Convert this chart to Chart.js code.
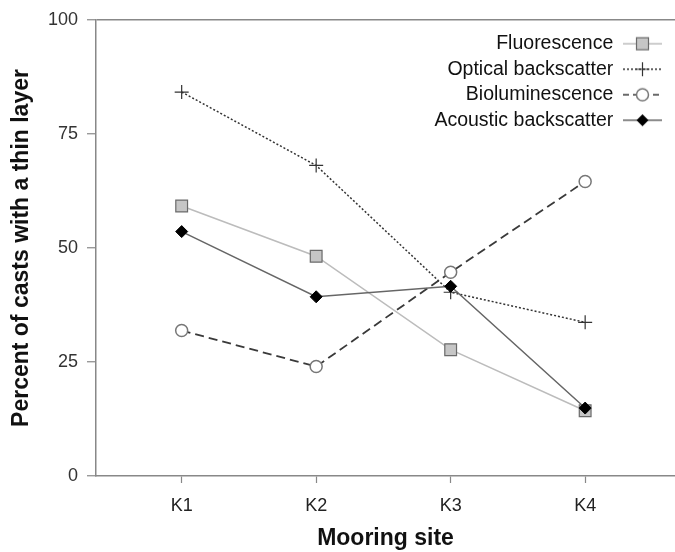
<!DOCTYPE html>
<html>
<head>
<meta charset="utf-8">
<script src="https://cdn.jsdelivr.net/npm/chart.js@4/dist/chart.umd.min.js"></script>
<style>
  html, body { margin: 0; background: #fff; overflow: hidden; }
  #wrap { width: 675px; height: 552px; }
  #wrap canvas { display: block; }
</style>
</head>
<body>
<div id="wrap"><canvas id="grafico"></canvas></div>
<script>
// mooring sites (x axis) and y ticks
var sites = ['K1', 'K2', 'K3', 'K4'];
var yTicks = [0, 25, 50, 75, 100];

// percent of casts with a thin layer, one array per sensor
var fluorescence = [59.2, 48.2, 27.7, 14.3];
var opticalBackscatter = [84.2, 68.1, 40.3, 33.7];
var bioluminescence = [31.9, 24.0, 44.7, 64.6];
var acousticBackscatter = [53.6, 39.3, 41.6, 14.9];

var fonte = '"Liberation Sans", Arial, sans-serif';

function toPoints(values) {
  return values.map(function (v, i) { return { x: i, y: v }; });
}

// small legend symbol: line with the marker in the middle
function legendSymbol(lineColor, lineWidth, dash, marker) {
  var c = document.createElement('canvas');
  c.width = 46;
  c.height = 20;
  var g = c.getContext('2d');
  g.strokeStyle = lineColor;
  g.lineWidth = lineWidth;
  g.setLineDash(dash);
  g.beginPath();
  g.moveTo(0, 10);
  g.lineTo(39, 10);
  g.stroke();
  g.setLineDash([]);
  marker(g, 19.5, 10);
  return c;
}

var symbols = [
  legendSymbol('#bcbcbc', 1.5, [], function (g, x, y) {
    g.fillStyle = '#c6c6c6'; g.strokeStyle = '#6a6a6a'; g.lineWidth = 1.2;
    g.fillRect(x - 6, y - 6, 12, 12); g.strokeRect(x - 6, y - 6, 12, 12);
  }),
  legendSymbol('#333', 1.5, [2, 2], function (g, x, y) {
    g.strokeStyle = '#333'; g.lineWidth = 1.2;
    g.beginPath(); g.moveTo(x, y - 7); g.lineTo(x, y + 7); g.moveTo(x - 7, y); g.lineTo(x + 7, y); g.stroke();
  }),
  legendSymbol('#3a3a3a', 1.6, [6, 4], function (g, x, y) {
    g.fillStyle = '#fff'; g.strokeStyle = '#777'; g.lineWidth = 1.5;
    g.beginPath(); g.arc(x, y, 6, 0, Math.PI * 2); g.fill(); g.stroke();
  }),
  legendSymbol('#666', 1.5, [], function (g, x, y) {
    g.fillStyle = '#000';
    g.beginPath(); g.moveTo(x - 6, y); g.lineTo(x, y - 6); g.lineTo(x + 6, y); g.lineTo(x, y + 6); g.closePath(); g.fill();
  })
];

// move the legend to the top right corner of the plot
var legendCorner = {
  id: 'legendCorner',
  afterLayout: function (chart) {
    var l = chart.legend;
    var w = l.width, h = l.height;
    l.right = chart.chartArea.right;
    l.left = l.right - w;
    l.top = chart.chartArea.top + 8;
    l.bottom = l.top + h;
  }
};

var ctx = document.getElementById('grafico').getContext('2d');
var chart = new Chart(ctx, {
  type: 'line',
  plugins: [legendCorner],
  data: {
    datasets: [
      {
        label: 'Fluorescence',
        data: toPoints(fluorescence),
        borderColor: '#bcbcbc',
        borderWidth: 1.5,
        pointStyle: 'rect',
        pointRadius: 8.3,
        pointBackgroundColor: '#c6c6c6',
        pointBorderColor: '#6a6a6a',
        pointBorderWidth: 1.2,
        order: 3
      },
      {
        label: 'Optical backscatter',
        data: toPoints(opticalBackscatter),
        borderColor: '#333',
        borderWidth: 1.5,
        borderDash: [2, 2],
        pointStyle: 'cross',
        pointRadius: 7,
        pointBorderColor: '#333',
        pointBorderWidth: 1.2,
        order: 2
      },
      {
        label: 'Bioluminescence',
        data: toPoints(bioluminescence),
        borderColor: '#3a3a3a',
        borderWidth: 1.8,
        borderDash: [9, 5],
        pointStyle: 'circle',
        pointRadius: 6,
        pointBackgroundColor: '#fff',
        pointBorderColor: '#777',
        pointBorderWidth: 1.5,
        order: 1
      },
      {
        label: 'Acoustic backscatter',
        data: toPoints(acousticBackscatter),
        borderColor: '#666',
        borderWidth: 1.5,
        pointStyle: 'rectRot',
        pointRadius: 6,
        pointBackgroundColor: '#000',
        pointBorderColor: '#000',
        pointBorderWidth: 1,
        order: 0
      }
    ]
  },
  options: {
    responsive: true,
    maintainAspectRatio: false,
    animation: false,
    layout: { autoPadding: false, padding: { top: 20, right: 0, bottom: 0, left: 0 } },
    plugins: {
      tooltip: { enabled: false },
      legend: {
        position: 'chartArea',
        align: 'start',
        rtl: true,
        labels: {
          usePointStyle: true,
          pointStyleWidth: 46,
          padding: 6,
          color: '#111',
          font: { family: fonte, size: 19.5 },
          generateLabels: function (chart) {
            return chart.data.datasets.map(function (ds, i) {
              return {
                text: ds.label,
                pointStyle: symbols[i],
                fontColor: '#111',
                datasetIndex: i,
                hidden: false,
                lineWidth: 0,
                strokeStyle: 'transparent',
                fillStyle: 'transparent'
              };
            });
          }
        }
      }
    },
    scales: {
      x: {
        type: 'linear',
        min: -0.637,
        max: 3.668,
        afterBuildTicks: function (axis) {
          axis.ticks = sites.map(function (s, i) { return { value: i }; });
        },
        afterFit: function (axis) {
          axis.height = 76;
          axis.paddingLeft = 0;
          axis.paddingRight = 0;
        },
        ticks: {
          autoSkip: false,
          maxRotation: 0,
          padding: 12,
          color: '#222',
          font: { family: fonte, size: 18 },
          callback: function (v) { return sites[v]; }
        },
        grid: { drawOnChartArea: false, tickLength: 7, tickColor: '#888', tickWidth: 1.2 },
        border: { color: '#888', width: 1.5 },
        title: {
          display: true,
          text: 'Mooring site',
          color: '#111',
          font: { family: fonte, size: 23, weight: 'bold' },
          padding: { top: 0, bottom: 0 }
        }
      },
      y: {
        min: 0,
        max: 100,
        afterBuildTicks: function (axis) {
          axis.ticks = yTicks.map(function (v) { return { value: v }; });
        },
        afterFit: function (axis) { axis.width = 96; },
        ticks: { padding: 9, color: '#333', font: { family: fonte, size: 18 } },
        grid: {
          color: function (c) { return c.tick && c.tick.value === 100 ? '#888' : 'transparent'; },
          lineWidth: 1.5,
          tickLength: 9,
          tickColor: '#888',
          tickWidth: 1.2
        },
        border: { color: '#888', width: 1.5 },
        title: {
          display: true,
          text: 'Percent of casts with a thin layer',
          color: '#111',
          font: { family: fonte, size: 23, weight: 'bold' },
          padding: { top: 8, bottom: 0 }
        }
      }
    }
  }
});
</script>
</body>
</html>
